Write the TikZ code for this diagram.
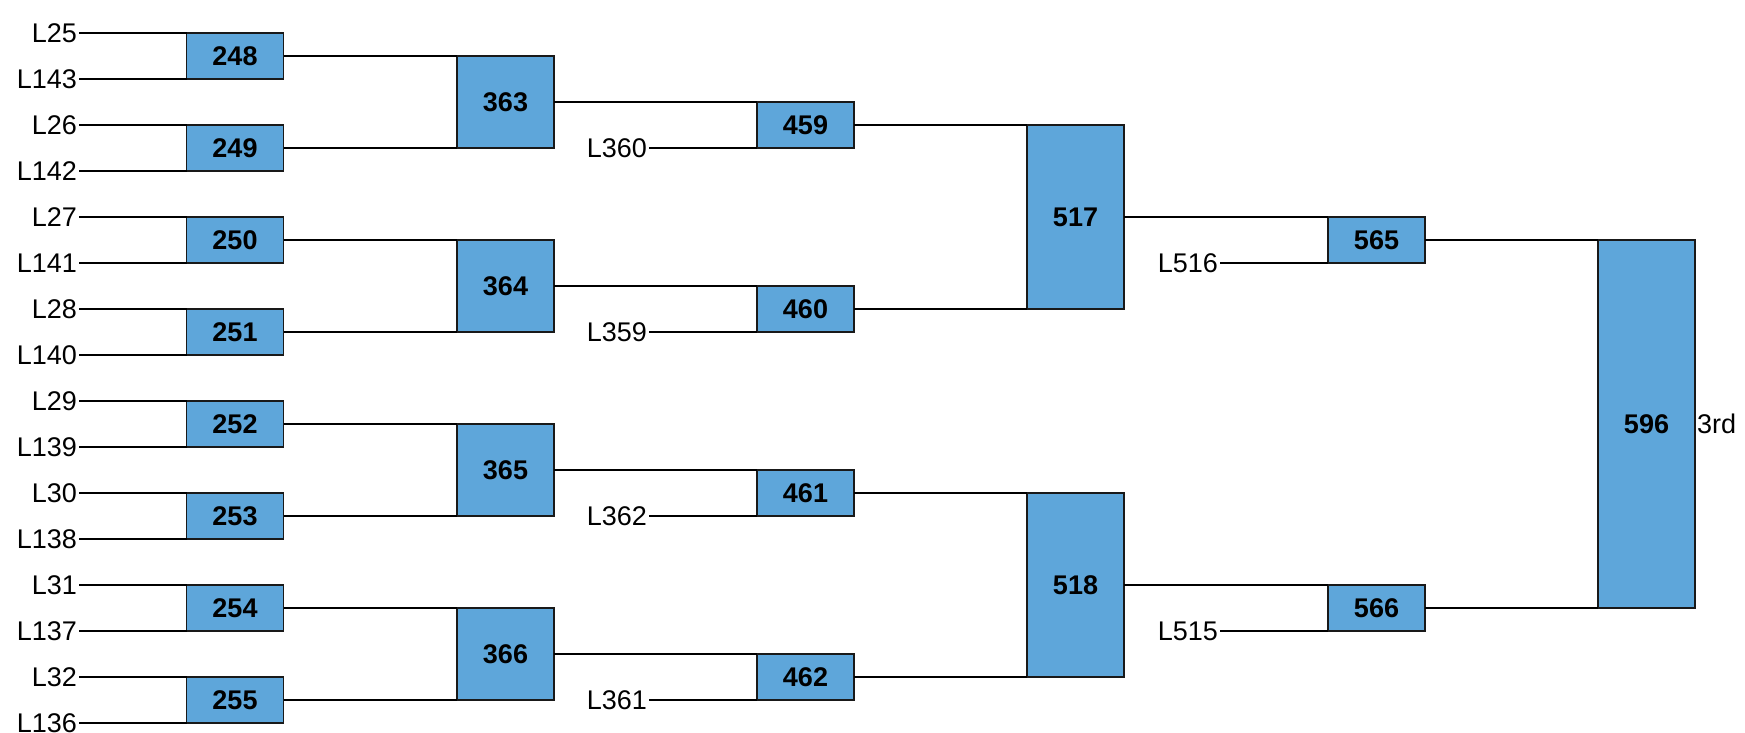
\documentclass[tikz,border=0pt]{standalone}
\usepackage{fontspec}
\setmainfont{Liberation Sans}
\usepackage{tikz}
\definecolor{matchblue}{HTML}{5EA6DA}
\tikzset{
  matchbox/.style={draw=black!90, fill=matchblue, line width=0.75pt, outer sep=0pt, minimum width=48.5pt, inner sep=0pt, font=\fontsize{13.5}{16}\selectfont\bfseries},
  entry/.style={inner xsep=1pt, inner ysep=0pt, outer sep=0pt, font=\fontsize{13.5}{16}\selectfont},
}

\begin{document}
\begin{tikzpicture}[x=0.5pt, y=-0.5pt, line width=1pt]
\useasboundingbox (0,0) rectangle (1745,733);

% first round
\node[matchbox, minimum height=23pt] (m248) at (235, 56) {248};
\node[matchbox, minimum height=23pt] (m249) at (235, 148) {249};
\node[matchbox, minimum height=23pt] (m250) at (235, 240) {250};
\node[matchbox, minimum height=23pt] (m251) at (235, 332) {251};
\node[matchbox, minimum height=23pt] (m252) at (235, 424) {252};
\node[matchbox, minimum height=23pt] (m253) at (235, 516) {253};
\node[matchbox, minimum height=23pt] (m254) at (235, 608) {254};
\node[matchbox, minimum height=23pt] (m255) at (235, 700) {255};

\node[entry, anchor=east] (l25) at (79, 33) {L25};
\node[entry, anchor=east] (l143) at (79, 79) {L143};
\node[entry, anchor=east] (l26) at (79, 125) {L26};
\node[entry, anchor=east] (l142) at (79, 171) {L142};
\node[entry, anchor=east] (l27) at (79, 217) {L27};
\node[entry, anchor=east] (l141) at (79, 263) {L141};
\node[entry, anchor=east] (l28) at (79, 309) {L28};
\node[entry, anchor=east] (l140) at (79, 355) {L140};
\node[entry, anchor=east] (l29) at (79, 401) {L29};
\node[entry, anchor=east] (l139) at (79, 447) {L139};
\node[entry, anchor=east] (l30) at (79, 493) {L30};
\node[entry, anchor=east] (l138) at (79, 539) {L138};
\node[entry, anchor=east] (l31) at (79, 585) {L31};
\node[entry, anchor=east] (l137) at (79, 631) {L137};
\node[entry, anchor=east] (l32) at (79, 677) {L32};
\node[entry, anchor=east] (l136) at (79, 723) {L136};

\draw (l25.east) -- (m248.north west);
\draw (l143.east) -- (m248.south west);
\draw (l26.east) -- (m249.north west);
\draw (l142.east) -- (m249.south west);
\draw (l27.east) -- (m250.north west);
\draw (l141.east) -- (m250.south west);
\draw (l28.east) -- (m251.north west);
\draw (l140.east) -- (m251.south west);
\draw (l29.east) -- (m252.north west);
\draw (l139.east) -- (m252.south west);
\draw (l30.east) -- (m253.north west);
\draw (l138.east) -- (m253.south west);
\draw (l31.east) -- (m254.north west);
\draw (l137.east) -- (m254.south west);
\draw (l32.east) -- (m255.north west);
\draw (l136.east) -- (m255.south west);

% second round
\node[matchbox, minimum height=46pt] (m363) at (505.5, 102) {363};
\node[matchbox, minimum height=46pt] (m364) at (505.5, 286) {364};
\node[matchbox, minimum height=46pt] (m365) at (505.5, 470) {365};
\node[matchbox, minimum height=46pt] (m366) at (505.5, 654) {366};

\draw (m248.east) -- (m363.north west);
\draw (m249.east) -- (m363.south west);
\draw (m250.east) -- (m364.north west);
\draw (m251.east) -- (m364.south west);
\draw (m252.east) -- (m365.north west);
\draw (m253.east) -- (m365.south west);
\draw (m254.east) -- (m366.north west);
\draw (m255.east) -- (m366.south west);

% third round
\node[matchbox, minimum height=23pt] (m459) at (805.5, 125) {459};
\node[matchbox, minimum height=23pt] (m460) at (805.5, 309) {460};
\node[matchbox, minimum height=23pt] (m461) at (805.5, 493) {461};
\node[matchbox, minimum height=23pt] (m462) at (805.5, 677) {462};

\node[entry, anchor=east] (l360) at (649, 148) {L360};
\node[entry, anchor=east] (l359) at (649, 332) {L359};
\node[entry, anchor=east] (l362) at (649, 516) {L362};
\node[entry, anchor=east] (l361) at (649, 700) {L361};

\draw (m363.east) -- (m459.north west);
\draw (l360.east) -- (m459.south west);
\draw (m364.east) -- (m460.north west);
\draw (l359.east) -- (m460.south west);
\draw (m365.east) -- (m461.north west);
\draw (l362.east) -- (m461.south west);
\draw (m366.east) -- (m462.north west);
\draw (l361.east) -- (m462.south west);

% fourth round
\node[matchbox, minimum height=92pt] (m517) at (1075.5, 217) {517};
\node[matchbox, minimum height=92pt] (m518) at (1075.5, 585) {518};

\draw (m459.east) -- (m517.north west);
\draw (m460.east) -- (m517.south west);
\draw (m461.east) -- (m518.north west);
\draw (m462.east) -- (m518.south west);

% fifth round
\node[matchbox, minimum height=23pt] (m565) at (1376.5, 240) {565};
\node[matchbox, minimum height=23pt] (m566) at (1376.5, 608) {566};

\node[entry, anchor=east] (l516) at (1220, 263) {L516};
\node[entry, anchor=east] (l515) at (1220, 631) {L515};

\draw (m517.east) -- (m565.north west);
\draw (l516.east) -- (m565.south west);
\draw (m518.east) -- (m566.north west);
\draw (l515.east) -- (m566.south west);

% final
\node[matchbox, minimum height=184pt] (m596) at (1646.5, 424) {596};
\node[entry, anchor=west] (third) at (m596.east) {3rd};

\draw (m565.east) -- (m596.north west);
\draw (m566.east) -- (m596.south west);
\end{tikzpicture}
\end{document}
